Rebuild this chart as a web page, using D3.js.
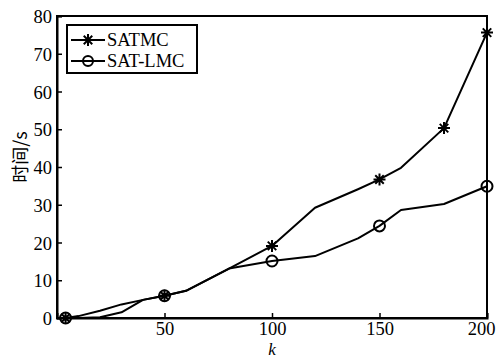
<!DOCTYPE html>
<html><head><meta charset="utf-8">
<script src="https://cdn.jsdelivr.net/npm/d3@7"></script>
<style>body{margin:0;background:#fff}svg{display:block}</style>
</head><body>
<svg id="c" width="499" height="359"></svg>
<script>
const kValues = [4, 10, 20, 30, 40, 50, 60, 80, 100, 120, 140, 150, 160, 180, 200];
const satmc   = [0, 0, 0.2, 1.5, 4.8, 5.9, 7.2, 13.1, 19.1, 29.2, 34.1, 36.7, 39.8, 50.3, 75.6];
const satlmc  = [0, 0.5, 1.9, 3.6, 4.8, 5.9, 7.2, 13.1, 15.1, 16.4, 21.1, 24.4, 28.6, 30.2, 34.9];
const satmcMarkers  = [4, 50, 100, 150, 180, 200];
const satlmcMarkers = [4, 50, 100, 150, 200];
const xTicks = [50, 100, 150, 200];
const yTicks = [0, 10, 20, 30, 40, 50, 60, 70, 80];
const seriesNames = ["SATMC", "SAT-LMC"];

const svg = d3.select("#c");
const L = 57, R = 487, T = 16, B = 318;
const x = d3.scaleLinear().domain([0, 200]).range([L, R]);
const y = d3.scaleLinear().domain([0, 80]).range([B, T]);
const FS = 18.5;
const SERIF = "Liberation Serif";

// frame
svg.append("rect").attr("x", L).attr("y", T).attr("width", R - L).attr("height", B - T)
  .attr("fill", "none").attr("stroke", "#000").attr("stroke-width", 2);

// axes
const xa = svg.append("g").attr("transform", `translate(0,${B})`)
  .call(d3.axisBottom(x).tickValues(xTicks).tickSize(-5).tickPadding(12).tickFormat(d3.format("d")));
const ya = svg.append("g").attr("transform", `translate(${L},0)`)
  .call(d3.axisLeft(y).tickValues(yTicks).tickSize(-5).tickPadding(5).tickFormat(d3.format("d")));
[xa, ya].forEach(g => {
  g.attr("font-family", SERIF).attr("font-size", FS);
  g.select(".domain").attr("stroke", "#000").attr("stroke-width", 2);
  g.selectAll(".tick line").attr("stroke", "#000").attr("stroke-width", 1.5);
  g.selectAll("text").attr("font-family", SERIF).attr("font-size", FS).attr("fill", "#000");
});
xa.selectAll("text").attr("dy", "0.71em").attr("y", 4)
  .attr("dx", d => d === 200 ? -6 : 0);
ya.selectAll("text").attr("dy", "0.36em");

// axis labels
svg.append("text").attr("font-family", SERIF).attr("x", x(100)).attr("y", 355).attr("text-anchor", "middle")
  .attr("font-style", "italic").attr("font-size", 17).text("k");
svg.append("text").attr("transform", `translate(27,157) rotate(-90)`).attr("text-anchor", "middle")
  .attr("font-family", "Noto Sans CJK SC").attr("font-size", 18).text("时间/s");

// lines
const line = d3.line().x((d, i) => x(kValues[i])).y(d => y(d));
[satmc, satlmc].forEach(s => {
  svg.append("path").datum(s).attr("d", line).attr("fill", "none")
    .attr("stroke", "#000").attr("stroke-width", 2).attr("stroke-linejoin", "round");
});

function star(g, cx, cy, r) {
  const p = [];
  for (let a = 0; a < 4; a++) {
    const ang = a * Math.PI / 4;
    p.push(`M${cx - r * Math.cos(ang)},${cy - r * Math.sin(ang)}L${cx + r * Math.cos(ang)},${cy + r * Math.sin(ang)}`);
  }
  g.append("path").attr("d", p.join("")).attr("stroke", "#000").attr("stroke-width", 2).attr("fill", "none");
}
function circ(g, cx, cy, r) {
  g.append("circle").attr("cx", cx).attr("cy", cy).attr("r", r)
    .attr("fill", "none").attr("stroke", "#000").attr("stroke-width", 2);
}
const mg = svg.append("g");
satmcMarkers.forEach(k => { const i = kValues.indexOf(k); star(mg, x(k), y(satmc[i]), 6); });
satlmcMarkers.forEach(k => { const i = kValues.indexOf(k); circ(mg, x(k), y(satlmc[i]), 5.5); });

// legend
const lg = svg.append("g");
lg.append("rect").attr("x", 67).attr("y", 25).attr("width", 130).attr("height", 48)
  .attr("fill", "#fff").attr("stroke", "#000").attr("stroke-width", 2);
seriesNames.forEach((n, i) => {
  const ly = 40 + i * 21;
  lg.append("line").attr("x1", 71).attr("x2", 105).attr("y1", ly).attr("y2", ly)
    .attr("stroke", "#000").attr("stroke-width", 2);
  if (i === 0) star(lg, 88, ly, 6); else circ(lg, 88, ly, 5);
  lg.append("text").attr("font-family", SERIF).attr("x", 107).attr("y", ly).attr("dy", "0.35em")
    .attr("font-size", FS).text(n);
});
</script>
</body></html>
